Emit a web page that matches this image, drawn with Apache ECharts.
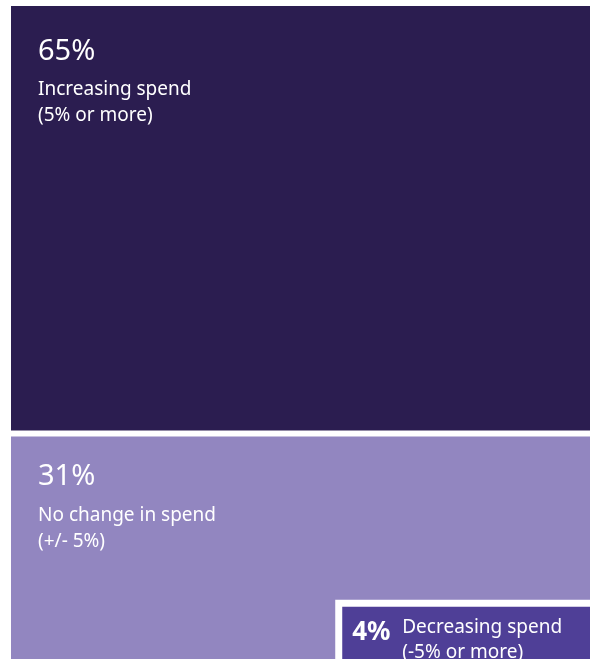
<!DOCTYPE html>
<html>
<head>
<meta charset="utf-8">
<script src="https://cdn.jsdelivr.net/npm/echarts@6/dist/echarts.min.js"></script>
<style>
  html, body { margin: 0; padding: 0; background: #fff; }
  #chart { width: 590px; height: 659px; }
</style>
</head>
<body>
<div id="chart"></div>
<script>
// spend outlook shares
const categories = ['Increasing spend', 'No change in spend', 'Decreasing spend'];
const notes = ['(5% or more)', '(+/- 5%)', '(-5% or more)'];
const shares = [65, 31, 4];

const colors = ['#2b1d50', '#9286c0', '#4f3f97'];
const FONT = '"Noto Sans", sans-serif';
const INSET_W = 44; // width of the small box, % of the chart width

function initChart() {
  const el = document.getElementById('chart');
  const chart = echarts.init(el, null, { renderer: 'canvas' });

  // blocks: [x0, x1, y0, y1, idx]; top block stacked over the rest,
  // smallest share drawn as an inset in the lower right corner
  const rest = 100 - shares[0];
  const insetH = shares[2] / INSET_W * 100;
  const blocks = [
    [0, 100, rest, 100, 0],
    [0, 100, 0, rest, 1],
    [100 - INSET_W, 100, 0, insetH, 2]
  ];

  const txt = (text, x, y, font) => ({
    type: 'text',
    style: { text, x, y, fill: '#ffffff', font: font + ' ' + FONT, verticalAlign: 'middle' }
  });

  function renderItem(params, api) {
    const idx = api.value(4);
    const tl = api.coord([api.value(0), api.value(3)]);
    const br = api.coord([api.value(1), api.value(2)]);
    const x = tl[0], y = tl[1];
    const w = br[0] - x, h = br[1] - y;
    const children = [];

    if (idx === 0) {
      children.push({ type: 'rect', shape: { x, y, width: w, height: h }, style: { fill: colors[0] } });
      children.push(txt(shares[0] + '%', x + 27, y + 45.5, '29px'));
      children.push(txt(categories[0], x + 27, y + 83.5, '19px'));
      children.push(txt(notes[0], x + 27, y + 110, '19px'));
    } else if (idx === 1) {
      const gy = y + 6;
      children.push({ type: 'rect', shape: { x, y: gy, width: w, height: h - 6 }, style: { fill: colors[1] } });
      children.push(txt(shares[1] + '%', x + 27, gy + 40, '29px'));
      children.push(txt(categories[1], x + 27, gy + 79.5, '19px'));
      children.push(txt(notes[1], x + 27, gy + 105.5, '19px'));
    } else {
      children.push({ type: 'rect', shape: { x, y, width: w, height: h }, style: { fill: '#ffffff' } });
      children.push({ type: 'rect', shape: { x: x + 7, y: y + 7, width: w - 7, height: h - 7 }, style: { fill: colors[2] } });
      children.push(txt(shares[2] + '%', x + 17, y + 32.5, 'bold 26px'));
      children.push(txt(categories[2], x + 67, y + 28, '19px'));
      children.push(txt(notes[2], x + 67, y + 52.5, '19px'));
    }
    return { type: 'group', children };
  }

  chart.setOption({
    animation: false,
    grid: { left: 11, right: 0, top: 6, bottom: 0 },
    xAxis: { type: 'value', min: 0, max: 100, show: false },
    yAxis: { type: 'value', min: 0, max: 100, show: false },
    series: [{
      type: 'custom',
      renderItem,
      clip: false,
      data: blocks
    }]
  });

  window.addEventListener('resize', () => chart.resize());
}

initChart();
</script>
</body>
</html>
